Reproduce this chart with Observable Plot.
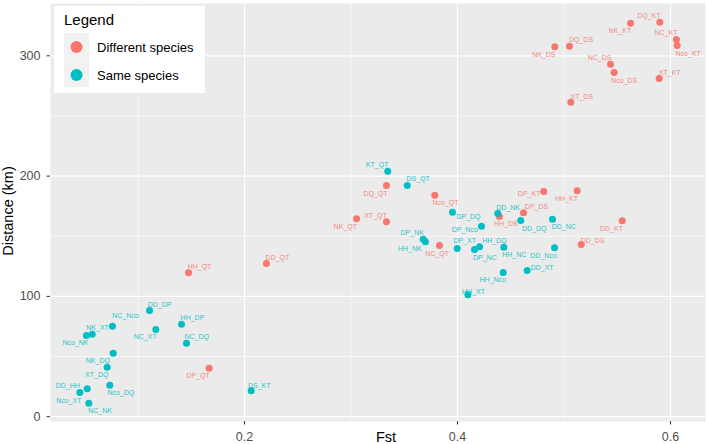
<!DOCTYPE html>
<html>
<head>
<meta charset="utf-8">
<script src="https://cdn.jsdelivr.net/npm/d3@7"></script>
<script src="https://cdn.jsdelivr.net/npm/@observablehq/plot@0.6"></script>
<style>
  html, body { margin: 0; padding: 0; background: #fff; }
  #chart svg { display: block; }
</style>
</head>
<body>
<div id="chart"></div>
<script>
// Site pairs between different species
const diffPairs = ["DQ_KT","NK_KT","NC_KT","Nco_KT","NK_DS","DQ_DS","NC_DS","Nco_DS","XT_KT","XT_DS",
  "DQ_QT","Nco_QT","XT_QT","NK_QT","NC_QT","HH_DS","DP_DS","DP_KT","HH_KT","DD_KT","DD_DS",
  "HH_QT","DD_QT","DP_QT"];
const diffFst = [0.590,0.5625,0.6056,0.6063,0.4914,0.5052,0.5437,0.5471,0.5894,0.5064,
  0.3333,0.3787,0.3333,0.3052,0.3831,0.4394,0.4620,0.4810,0.5124,0.5547,0.5162,
  0.1474,0.2206,0.1668];
const diffDist = [328,327,313.6,308.6,307.5,308,293,286.1,281.1,261.4,
  192.2,184.1,162,164.5,142.3,166.4,169.5,187.2,187.8,162.8,143.1,
  119.6,127.3,40.3];

// Site pairs within the same species
const samePairs = ["KT_QT","DS_QT","DP_DQ","DP_Nco","DP_NK","HH_NK","DP_XT","DP_NC","HH_DQ","HH_NC",
  "DD_NK","DD_DQ","DD_NC","DD_Nco","HH_Nco","DD_XT","HH_XT","DD_DP","NC_Nco","NK_XT","Nco_NK",
  "NC_XT","HH_DP","NC_DQ","NK_DQ","XT_DQ","DD_HH","Nco_XT","NC_NK","Nco_DQ","DS_KT"];
const sameFst = [0.3345,0.3528,0.3953,0.4225,0.3678,0.3699,0.3997,0.4160,0.4207,0.4435,
  0.4378,0.4594,0.4892,0.4911,0.4429,0.4654,0.4097,0.1108,0.0760,0.0570,0.0516,
  0.1167,0.1408,0.1455,0.0767,0.0710,0.0523,0.0453,0.0538,0.0735,0.2063];
const sameDist = [204.1,192.2,170,158.4,147.6,145.4,139.8,139,141.2,140.9,
  168.9,163.1,164.2,140.4,119.9,121.5,101.3,88.3,75.2,68.6,67.5,
  72.5,76.9,61.1,52.8,41.1,23.2,20.1,11.2,26.2,21.5];

const groups = ["Different species", "Same species"];
const groupColors = ["#F8766D", "#00BFC4"];

const xTicks = [0.2, 0.4, 0.6];
const yTicks = [0, 100, 200, 300];
const xMinor = [0.1, 0.3, 0.5];
const yMinor = [50, 150, 250];

// Label placement around each point, in pixels (label centre relative to point)
const labelNudge = {
  DQ_KT: [-11,-6], NK_KT: [-10.5,7], NC_KT: [-10.5,-6.5], Nco_KT: [11,8], NK_DS: [-11,8],
  DQ_DS: [11.5,-6], NC_DS: [-11,-6.5], Nco_DS: [10,8.5], XT_KT: [10.5,-6], XT_DS: [11,-5.5],
  DQ_QT: [-11,8.3], Nco_QT: [10.7,8], XT_QT: [-11,-6], NK_QT: [-11.3,7.7], NC_QT: [-2.3,8.3],
  HH_DS: [6.3,7.7], DP_DS: [13,-5.6], DP_KT: [-14.6,2.3], HH_KT: [-10.7,7.7], DD_KT: [-10.7,8],
  DD_DS: [11.3,-4], HH_QT: [11,-6], DD_QT: [11,-5.7], DP_QT: [-11,8],
  KT_QT: [-10.6,-6], DS_QT: [11,-6.3], DP_DQ: [16,5], DP_Nco: [-16.7,3.3], DP_NK: [-11,-6.7],
  HH_NK: [-15.7,7.4], DP_XT: [7.6,-7.3], DP_NC: [10.3,8.3], HH_DQ: [15,-6.3], HH_NC: [10.4,8],
  DD_NK: [10.4,-5.3], DD_DQ: [13.4,8], DD_NC: [11.3,8], DD_Nco: [-11,8.4], HH_Nco: [-10.4,7.3],
  DD_XT: [15,-2.3], HH_XT: [5.7,-2.6], DD_DP: [10,-6], NC_Nco: [13,-10.7], NK_XT: [5.3,-6.4],
  Nco_NK: [-11,7.7], NC_XT: [-10.6,7.7], HH_DP: [11,-6.4], NC_DQ: [10.3,-6], NK_DQ: [-15.4,7.3],
  XT_DQ: [-10.4,7.6], DD_HH: [-19.4,-3], Nco_XT: [-11,8], NC_NK: [11.2,8], Nco_DQ: [11,8],
  DS_KT: [8,-5]
};

const rows = [
  ...diffPairs.map((p, i) => ({pair: p, fst: diffFst[i], dist: diffDist[i], group: groups[0]})),
  ...samePairs.map((p, i) => ({pair: p, fst: sameFst[i], dist: sameDist[i], group: groups[1]}))
];
const colorOf = g => groupColors[groups.indexOf(g)];

const FONT = "'Liberation Sans', Arial, Helvetica, sans-serif";
const W = 709, H = 444;

const labelMarks = rows.map(d => {
  const [dx, dy] = labelNudge[d.pair] || [10, -6];
  return Plot.text([d], {
    x: "fst", y: "dist", text: "pair", dx, dy,
    fill: colorOf(d.group), fillOpacity: 0.9,
    fontSize: 7, textAnchor: "middle"
  });
});

const chart = Plot.plot({
  width: W,
  height: H,
  marginLeft: 50,
  marginRight: 4,
  marginTop: 3,
  marginBottom: 23,
  style: {fontFamily: FONT, background: "#fff"},
  x: {domain: [0.0178, 0.6329]},
  y: {domain: [-4, 343.5]},
  color: {domain: groups, range: groupColors},
  marks: [
    Plot.frame({fill: "#EBEBEB", stroke: "none"}),
    Plot.gridX(xMinor, {stroke: "#fff", strokeOpacity: 1, strokeWidth: 0.6}),
    Plot.gridY(yMinor, {stroke: "#fff", strokeOpacity: 1, strokeWidth: 0.6}),
    Plot.gridX(xTicks, {stroke: "#fff", strokeOpacity: 1, strokeWidth: 1.2}),
    Plot.gridY(yTicks, {stroke: "#fff", strokeOpacity: 1, strokeWidth: 1.2}),
    Plot.axisX({ticks: xTicks, tickSize: 3.5, tickPadding: 7.5, fontSize: 12.5,
      stroke: "#333", fill: "#4D4D4D", label: null, tickFormat: d => d.toFixed(1)}),
    Plot.axisY({ticks: yTicks, tickSize: 3.5, tickPadding: 6.5, fontSize: 12.5,
      stroke: "#333", fill: "#4D4D4D", label: null}),
    ...labelMarks,
    Plot.dot(rows, {x: "fst", y: "dist", fill: "group", r: 3.5, stroke: "none"})
  ]
});

document.getElementById("chart").appendChild(chart);

// Axis titles and the legend box drawn on top of the plot
const svg = d3.select(chart);

svg.append("text")
  .attr("x", 386).attr("y", 442)
  .attr("text-anchor", "middle")
  .attr("font-family", FONT).attr("font-size", 14.5)
  .attr("fill", "#000")
  .text("Fst");

svg.append("text")
  .attr("transform", "translate(13,211) rotate(-90)")
  .attr("text-anchor", "middle")
  .attr("font-family", FONT).attr("font-size", 14.5)
  .attr("fill", "#000")
  .text("Distance (km)");

const legend = svg.append("g")
  .attr("font-family", FONT)
  .attr("text-anchor", "start");
legend.append("rect")
  .attr("x", 54).attr("y", 6).attr("width", 151).attr("height", 87)
  .attr("fill", "#fff");
legend.append("text")
  .attr("x", 64).attr("y", 25)
  .attr("text-anchor", "start")
  .attr("font-size", 15).attr("fill", "#000")
  .text("Legend");
legend.append("rect")
  .attr("x", 64).attr("y", 33).attr("width", 25).attr("height", 54)
  .attr("fill", "#F2F2F2");
groups.forEach((g, i) => {
  const cy = 47 + i * 28;
  legend.append("circle")
    .attr("cx", 76.5).attr("cy", cy).attr("r", 6)
    .attr("fill", groupColors[i]);
  legend.append("text")
    .attr("x", 97).attr("y", cy).attr("dy", "0.35em")
    .attr("text-anchor", "start")
    .attr("font-size", 13).attr("fill", "#000")
    .text(g);
});
</script>
</body>
</html>
